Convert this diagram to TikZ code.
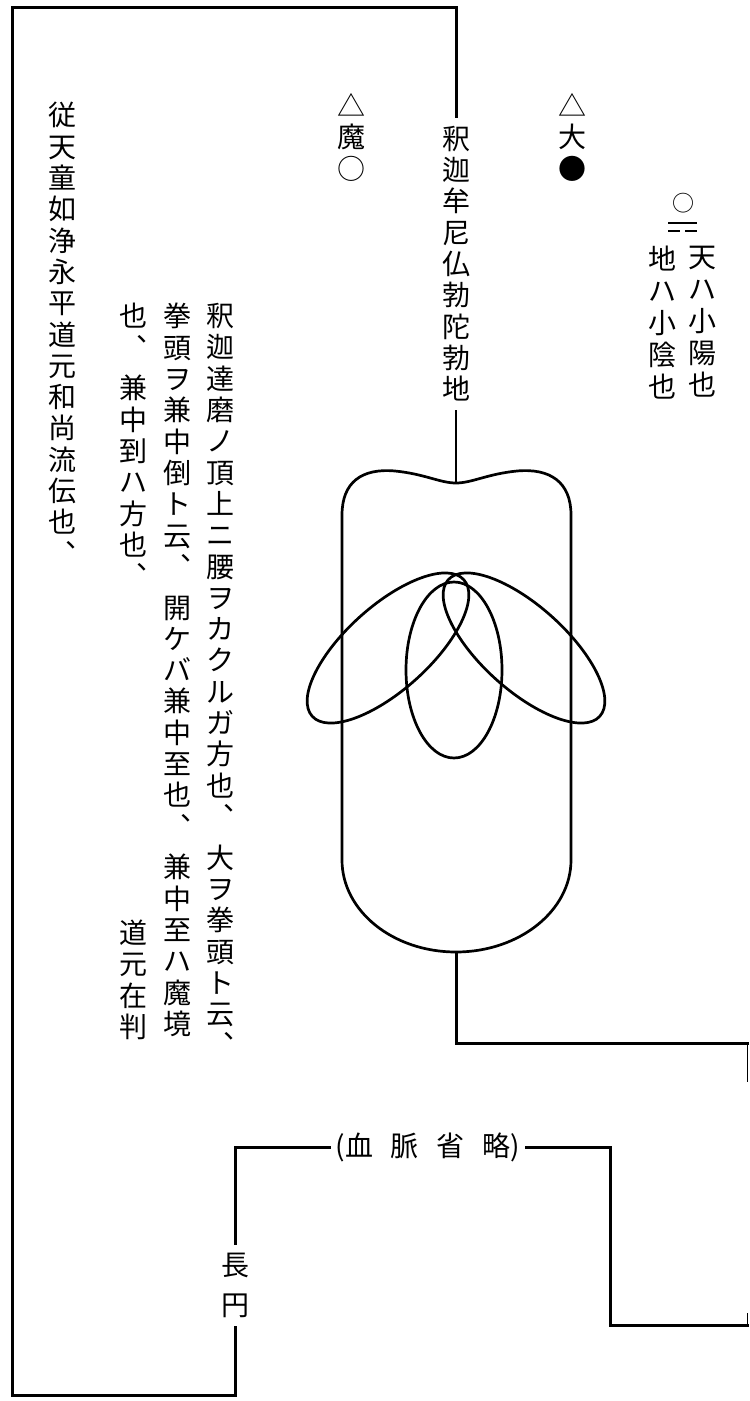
\documentclass[tikz,border=0pt]{standalone}
\usepackage{fontspec}
\newfontfamily\jp{Noto Sans CJK JP}
\begin{document}
\begin{tikzpicture}[x=0.5pt,y=-0.5pt,
  vcol/.style={font=\jp\fontsize{14}{15.65}\selectfont, align=center, inner sep=0pt, anchor=north},
  frame/.style={line width=1.5pt, line cap=rect},
  shapeline/.style={line width=1.35pt},
  thinline/.style={line width=1pt}]
\fill[white] (0,0) rectangle (749,1401);
\useasboundingbox (0,0) rectangle (749,1401);

% top label on the axis
\node[vcol, outer ysep=4.5pt] (shaka) at (456,117) {釈\\迦\\牟\\尼\\仏\\勃\\陀\\勃\\地};
\node[vcol] (ma) at (351,93) {△\\魔\\○};
\node[vcol] (dai) at (572,93) {△\\大\\●};
\node[font=\jp\fontsize{11}{12}\selectfont, inner sep=0pt] (yo) at (683,203) {○};
\node[vcol, font=\jp\fontsize{14}{16}\selectfont] (ten) at (702,246) {天\\ハ\\小\\陽\\也};
\node[vcol, font=\jp\fontsize{14}{16}\selectfont] (chi) at (662,246) {地\\ハ\\小\\陰\\也};
\draw[line width=1.3pt] (668,223) -- (697,223);
\draw[line width=1.3pt] (668,231) -- (680,231) (685,231) -- (697,231);

% left text columns
\node[vcol] (c1) at (62,102) {従\\天\\童\\如\\浄\\永\\平\\道\\元\\和\\尚\\流\\伝\\也\\︑};
\node[vcol] (c2) at (220,303) {釈\\迦\\達\\磨\\ノ\\頂\\上\\ニ\\腰\\ヲ\\カ\\ク\\ル\\ガ\\方\\也\\︑\\[4.7pt]大\\ヲ\\拳\\頭\\ト\\云\\︑};
\node[vcol] (c3) at (177,303) {拳\\頭\\ヲ\\兼\\中\\倒\\ト\\云\\︑\\[4.7pt]開\\ケ\\バ\\兼\\中\\至\\也\\︑\\[4.7pt]兼\\中\\至\\ハ\\魔\\境};
\node[vcol] (c4) at (133,303) {也\\︑\\[4.7pt]兼\\中\\到\\ハ\\方\\也\\︑};
\node[vcol, anchor=south] (han) at (133,1040) {道\\元\\在\\判};

% the figure
\coordinate (shapetop) at (456,483);
\coordinate (shapebot) at (456,952);
\draw[shapeline] (342,515) .. controls (342,482) and (362,468) .. (395,471)
  .. controls (425,474) and (440,483) .. (shapetop)
  .. controls (472,483) and (487,474) .. (517,471)
  .. controls (550,468) and (571,482) .. (571,515) -- (571,860)
  .. controls (571,911) and (519,952) .. (shapebot)
  .. controls (393,952) and (342,911) .. (342,860) -- cycle;
\draw[shapeline] (454,670) ellipse [x radius=48, y radius=88];
\draw[shapeline, rotate around={42:(388,648)}] (388,648) ellipse [x radius=102, y radius=42];
\draw[shapeline, rotate around={-42:(524,648)}] (524,648) ellipse [x radius=102, y radius=42];

% lower labels
\node[font=\jp\fontsize{14}{16}\selectfont, inner sep=0pt, outer xsep=3pt] (ketsu) at (428,1147) {(血\hspace{9pt}脈\hspace{9pt}省\hspace{9pt}略)};
\node[vcol, font=\jp\fontsize{14}{20}\selectfont, outer ysep=5pt] (choen) at (235,1243) {長\\円};

% connectors
\draw[frame] (shaka.north) -- (456,8) -- (12,8) -- (12,1395) -- (235,1395) -- (choen.south);
\draw[thinline] (shaka.south) -- (shapetop);
\draw[frame] (shapebot) -- (456,1043) -- (747.5,1043);
\draw[line width=0.8pt] (747.5,1043) -- (747.5,1082);
\draw[frame] (choen.north) -- (235,1147) -- (ketsu.west);
\draw[frame] (ketsu.east) -- (610,1147) -- (610,1325) -- (747.5,1325);
\draw[line width=0.8pt] (747.5,1325) -- (747.5,1313);
\end{tikzpicture}
\end{document}
